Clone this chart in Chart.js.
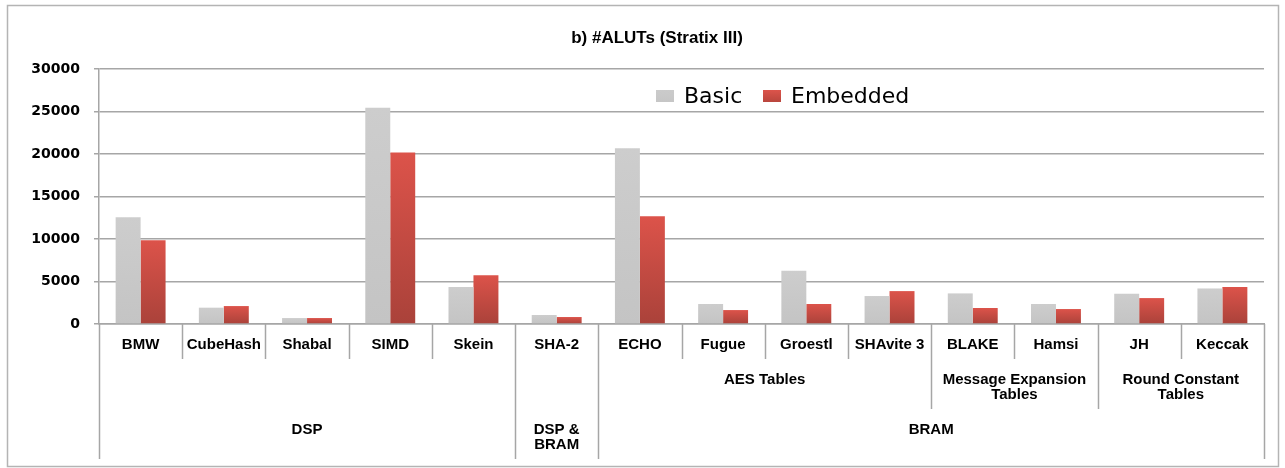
<!DOCTYPE html>
<html>
<head>
<meta charset="utf-8">
<script src="https://cdn.jsdelivr.net/npm/chart.js@4/dist/chart.umd.min.js"></script>
<style>
  html, body { margin: 0; padding: 0; background: #fff; }
  #wrap { width: 1285px; height: 468px; position: relative; }
</style>
</head>
<body>
<div id="wrap"><canvas id="myChart" width="1285" height="468"></canvas></div>
<script>
'use strict';

// data
let categories = ['BMW', 'CubeHash', 'Shabal', 'SIMD', 'Skein', 'SHA-2', 'ECHO', 'Fugue', 'Groestl', 'SHAvite 3', 'BLAKE', 'Hamsi', 'JH', 'Keccak'];
let basicValues = [12550, 1920, 700, 25450, 4340, 1060, 20690, 2350, 6260, 3290, 3600, 2350, 3560, 4180];
let embeddedValues = [9860, 2110, 700, 20180, 5750, 820, 12670, 1640, 2350, 3870, 1880, 1760, 3050, 4340];
// second and third label rows: [label, number of categories]
let tableGroups = [['', 5], ['', 1], ['AES Tables', 4], ['Message Expansion\nTables', 2], ['Round Constant\nTables', 2]];
let memoryGroups = [['DSP', 5], ['DSP &\nBRAM', 1], ['BRAM', 8]];
let yTicks = [0, 5000, 10000, 15000, 20000, 25000, 30000];
let seriesNames = ['Basic', 'Embedded'];
let chartTitle = 'b) #ALUTs (Stratix III)';

let lineGrey = '#a6a6a6';
let labelFont = 'bold 15px "Liberation Sans", Arial, sans-serif';

//Helper Functions
function barFill(top, bottom) {
  return function (ctx) {
    let chart = ctx.chart;
    if (!chart.chartArea || !chart.scales.y || typeof ctx.raw !== 'number') return top;
    let y0 = chart.scales.y.getPixelForValue(ctx.raw);
    let y1 = chart.scales.y.getPixelForValue(0);
    if (!isFinite(y0) || !isFinite(y1) || y0 === y1) return top;
    let g = chart.ctx.createLinearGradient(0, y0, 0, y1);
    g.addColorStop(0, top);
    g.addColorStop(1, bottom);
    return g;
  };
}

function groupEdges(groups) {
  let edges = [0];
  let n = 0;
  for (let i = 0; i < groups.length; i++) {
    n += groups[i][1];
    edges.push(n);
  }
  return edges;
}

function drawLines(c, text, x, y, lineHeight) {
  let parts = text.split('\n');
  for (let i = 0; i < parts.length; i++) {
    c.fillText(parts[i], x, y + i * lineHeight);
  }
}

// frame, title, legend and the three label rows under the bars
const decorations = {
  id: 'decorations',
  beforeDraw(chart) {
    let c = chart.ctx;
    c.save();
    c.strokeStyle = '#b4b4b4';
    c.lineWidth = 1.5;
    c.strokeRect(7.5, 5.5, 1271, 461);
    c.restore();
  },
  afterDraw(chart) {
    let c = chart.ctx;
    let xs = chart.scales.x;
    let area = chart.chartArea;
    let half = (xs.getPixelForValue(1) - xs.getPixelForValue(0)) / 2;
    let edgeX = function (i) {
      return i < categories.length ? xs.getPixelForValue(i) - half : xs.getPixelForValue(categories.length - 1) + half;
    };
    let row1 = area.bottom + 35;
    let row2 = area.bottom + 85;
    let row3 = area.bottom + 135;

    c.save();
    // title
    c.fillStyle = '#000';
    c.font = 'bold 17px "Liberation Sans", Arial, sans-serif';
    c.textAlign = 'center';
    c.textBaseline = 'middle';
    c.fillText(chartTitle, 657, 38);

    // legend
    let legendColors = [['#cbcbcb', '#c6c6c6'], ['#dc544b', '#b9463d']];
    let legendX = [656, 763];
    c.font = '22px "DejaVu Sans", Verdana, sans-serif';
    c.textAlign = 'left';
    for (let i = 0; i < seriesNames.length; i++) {
      let g = c.createLinearGradient(0, 90, 0, 102);
      g.addColorStop(0, legendColors[i][0]);
      g.addColorStop(1, legendColors[i][1]);
      c.fillStyle = g;
      c.fillRect(legendX[i], 90, 18, 12);
      c.fillStyle = '#000';
      c.fillText(seriesNames[i], legendX[i] + 28, 97);
    }

    // separator lines
    let memEdges = groupEdges(memoryGroups);
    let tabEdges = groupEdges(tableGroups);
    c.strokeStyle = lineGrey;
    c.lineWidth = 1.5;
    for (let i = 0; i <= categories.length; i++) {
      let end = row1;
      if (memEdges.indexOf(i) >= 0) end = row3;
      else if (tabEdges.indexOf(i) >= 0) end = row2;
      let x = Math.round(edgeX(i)) + 0.5;
      c.beginPath();
      c.moveTo(x, area.bottom);
      c.lineTo(x, end);
      c.stroke();
    }

    // labels
    c.fillStyle = '#000';
    c.font = labelFont;
    c.textAlign = 'center';
    c.textBaseline = 'middle';
    for (let i = 0; i < categories.length; i++) {
      c.fillText(categories[i], xs.getPixelForValue(i), area.bottom + 21);
    }
    for (let i = 0; i < tableGroups.length; i++) {
      let mid = (edgeX(tabEdges[i]) + edgeX(tabEdges[i + 1])) / 2;
      drawLines(c, tableGroups[i][0], mid, area.bottom + 56, 15);
    }
    for (let i = 0; i < memoryGroups.length; i++) {
      let mid = (edgeX(memEdges[i]) + edgeX(memEdges[i + 1])) / 2;
      drawLines(c, memoryGroups[i][0], mid, area.bottom + 106, 15);
    }
    c.restore();
  }
};

const data = {
  labels: categories,
  datasets: [{
    label: seriesNames[0],
    data: basicValues,
    backgroundColor: barFill('#cdcdcd', '#c4c4c4'),
  }, {
    label: seriesNames[1],
    data: embeddedValues,
    backgroundColor: barFill('#dc534a', '#aa423a'),
  }]
};

const config = {
  type: 'bar',
  data: data,
  options: {
    responsive: false,
    animation: false,
    layout: { padding: { left: 20, right: 21, top: 69, bottom: 144 } },
    datasets: { bar: { barPercentage: 1.0, categoryPercentage: 0.6 } },
    plugins: {
      legend: { display: false },
      title: { display: false },
      tooltip: { enabled: false }
    },
    scales: {
      x: {
        ticks: { display: false },
        grid: { display: false },
        border: { color: lineGrey, width: 1.5 },
        afterFit(s) { s.height = 0; }
      },
      y: {
        min: yTicks[0],
        max: yTicks[yTicks.length - 1],
        afterBuildTicks(s) { s.ticks = yTicks.map(v => ({ value: v })); },
        ticks: {
          color: '#000',
          padding: 14,
          font: { family: '"DejaVu Sans", Verdana, sans-serif', weight: 'bold', size: 14 },
          callback: v => String(v)
        },
        grid: { color: lineGrey, lineWidth: 1.5, tickLength: 5 },
        border: { color: lineGrey, width: 1.5 },
        afterFit(s) { s.width = 79; }
      }
    }
  },
  plugins: [decorations]
};

const myChart = new Chart(document.getElementById('myChart'), config);
</script>
</body>
</html>
